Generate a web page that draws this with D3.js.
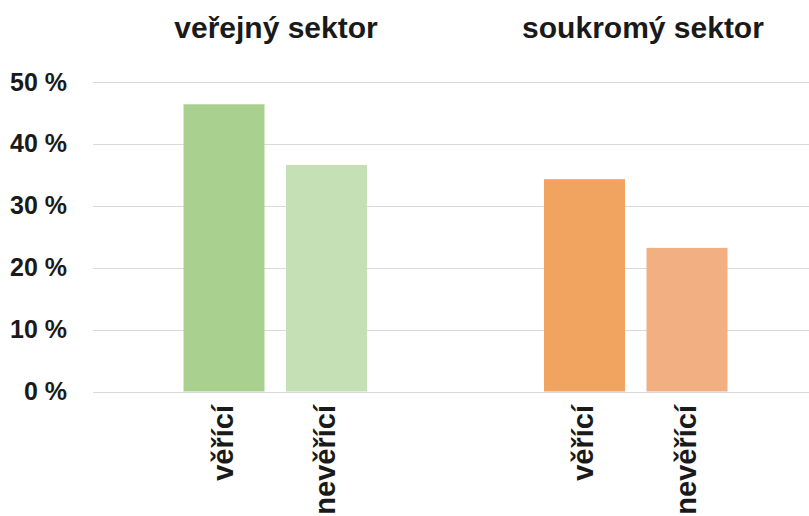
<!DOCTYPE html>
<html>
<head>
<meta charset="utf-8">
<script src="https://cdn.jsdelivr.net/npm/d3@7"></script>
<style>
  html, body { margin: 0; padding: 0; background: #fff; }
  svg { display: block; }
  text { font-family: "Liberation Sans", Arial, sans-serif; font-weight: bold; fill: #1a1a1a; }
</style>
</head>
<body>
<svg id="chart" width="809" height="516"></svg>
<script>
// Sector groups and the two respondent categories shown in each
const groups = ["veřejný sektor", "soukromý sektor"];
const categories = ["věřící", "nevěřící"];
// Share (%) per group, in category order
const publicValues = [46.4, 36.6];
const privateValues = [34.3, 23.2];
const yTicks = [0, 10, 20, 30, 40, 50];
const groupColors = {
  "veřejný sektor": ["#a9d08e", "#c5e0b4"],
  "soukromý sektor": ["#f1a460", "#f2b082"]
};

const seriesByGroup = {
  "veřejný sektor": publicValues,
  "soukromý sektor": privateValues
};

const data = groups.flatMap(g =>
  categories.map((c, i) => ({ group: g, category: c, value: seriesByGroup[g][i], color: groupColors[g][i] }))
);

const svg = d3.select("#chart");
const gridLeft = 93, gridRight = 809;

const y = d3.scaleLinear().domain([0, 50]).range([391.5, 82]);

const xGroup = d3.scaleBand().domain(groups).range([95, 816]).paddingInner(0).paddingOuter(0);
const xCat = d3.scaleBand().domain(categories).range([-113, 113]).paddingInner(0.21).paddingOuter(0.2075);
// Title anchor positions above each group
const xTitle = d3.scalePoint().domain(groups).range([276, 643]);

// Horizontal gridlines
svg.append("g")
  .selectAll("line")
  .data(yTicks)
  .join("line")
  .attr("x1", gridLeft)
  .attr("x2", gridRight)
  .attr("y1", d => Math.round(y(d)) + 0.5)
  .attr("y2", d => Math.round(y(d)) + 0.5)
  .attr("stroke", "#d9d9d9")
  .attr("stroke-width", 1.2);

// Y-axis labels
const yAxis = d3.axisLeft(y).tickValues(yTicks).tickSize(0).tickPadding(0).tickFormat(d => d + " %");
svg.append("g")
  .attr("transform", "translate(67,0)")
  .call(yAxis)
  .call(g => g.select(".domain").remove())
  .selectAll("text")
  .style("font-family", "'Liberation Sans', Arial, sans-serif")
  .style("font-weight", "bold")
  .style("font-size", "25px")
  .attr("fill", "#1a1a1a");

// Bars
const center = d => xGroup(d.group) + xGroup.bandwidth() / 2;
svg.append("g")
  .selectAll("rect")
  .data(data)
  .join("rect")
  .attr("x", d => center(d) + xCat(d.category))
  .attr("width", xCat.bandwidth())
  .attr("y", d => y(d.value))
  .attr("height", d => y(0) - y(d.value))
  .attr("fill", d => d.color);

// Rotated category labels under each bar
svg.append("g")
  .selectAll("text")
  .data(data)
  .join("text")
  .attr("transform", d => `translate(${center(d) + xCat(d.category) + xCat.bandwidth() / 2},405) rotate(-90)`)
  .attr("text-anchor", "end")
  .attr("dy", "0.3em")
  .style("font-size", "29px")
  .text(d => d.category);

// Group titles
svg.append("g")
  .selectAll("text")
  .data(groups)
  .join("text")
  .attr("x", g => xTitle(g))
  .attr("y", 38)
  .attr("text-anchor", "middle")
  .style("font-size", "30px")
  .text(g => g);
</script>
</body>
</html>
